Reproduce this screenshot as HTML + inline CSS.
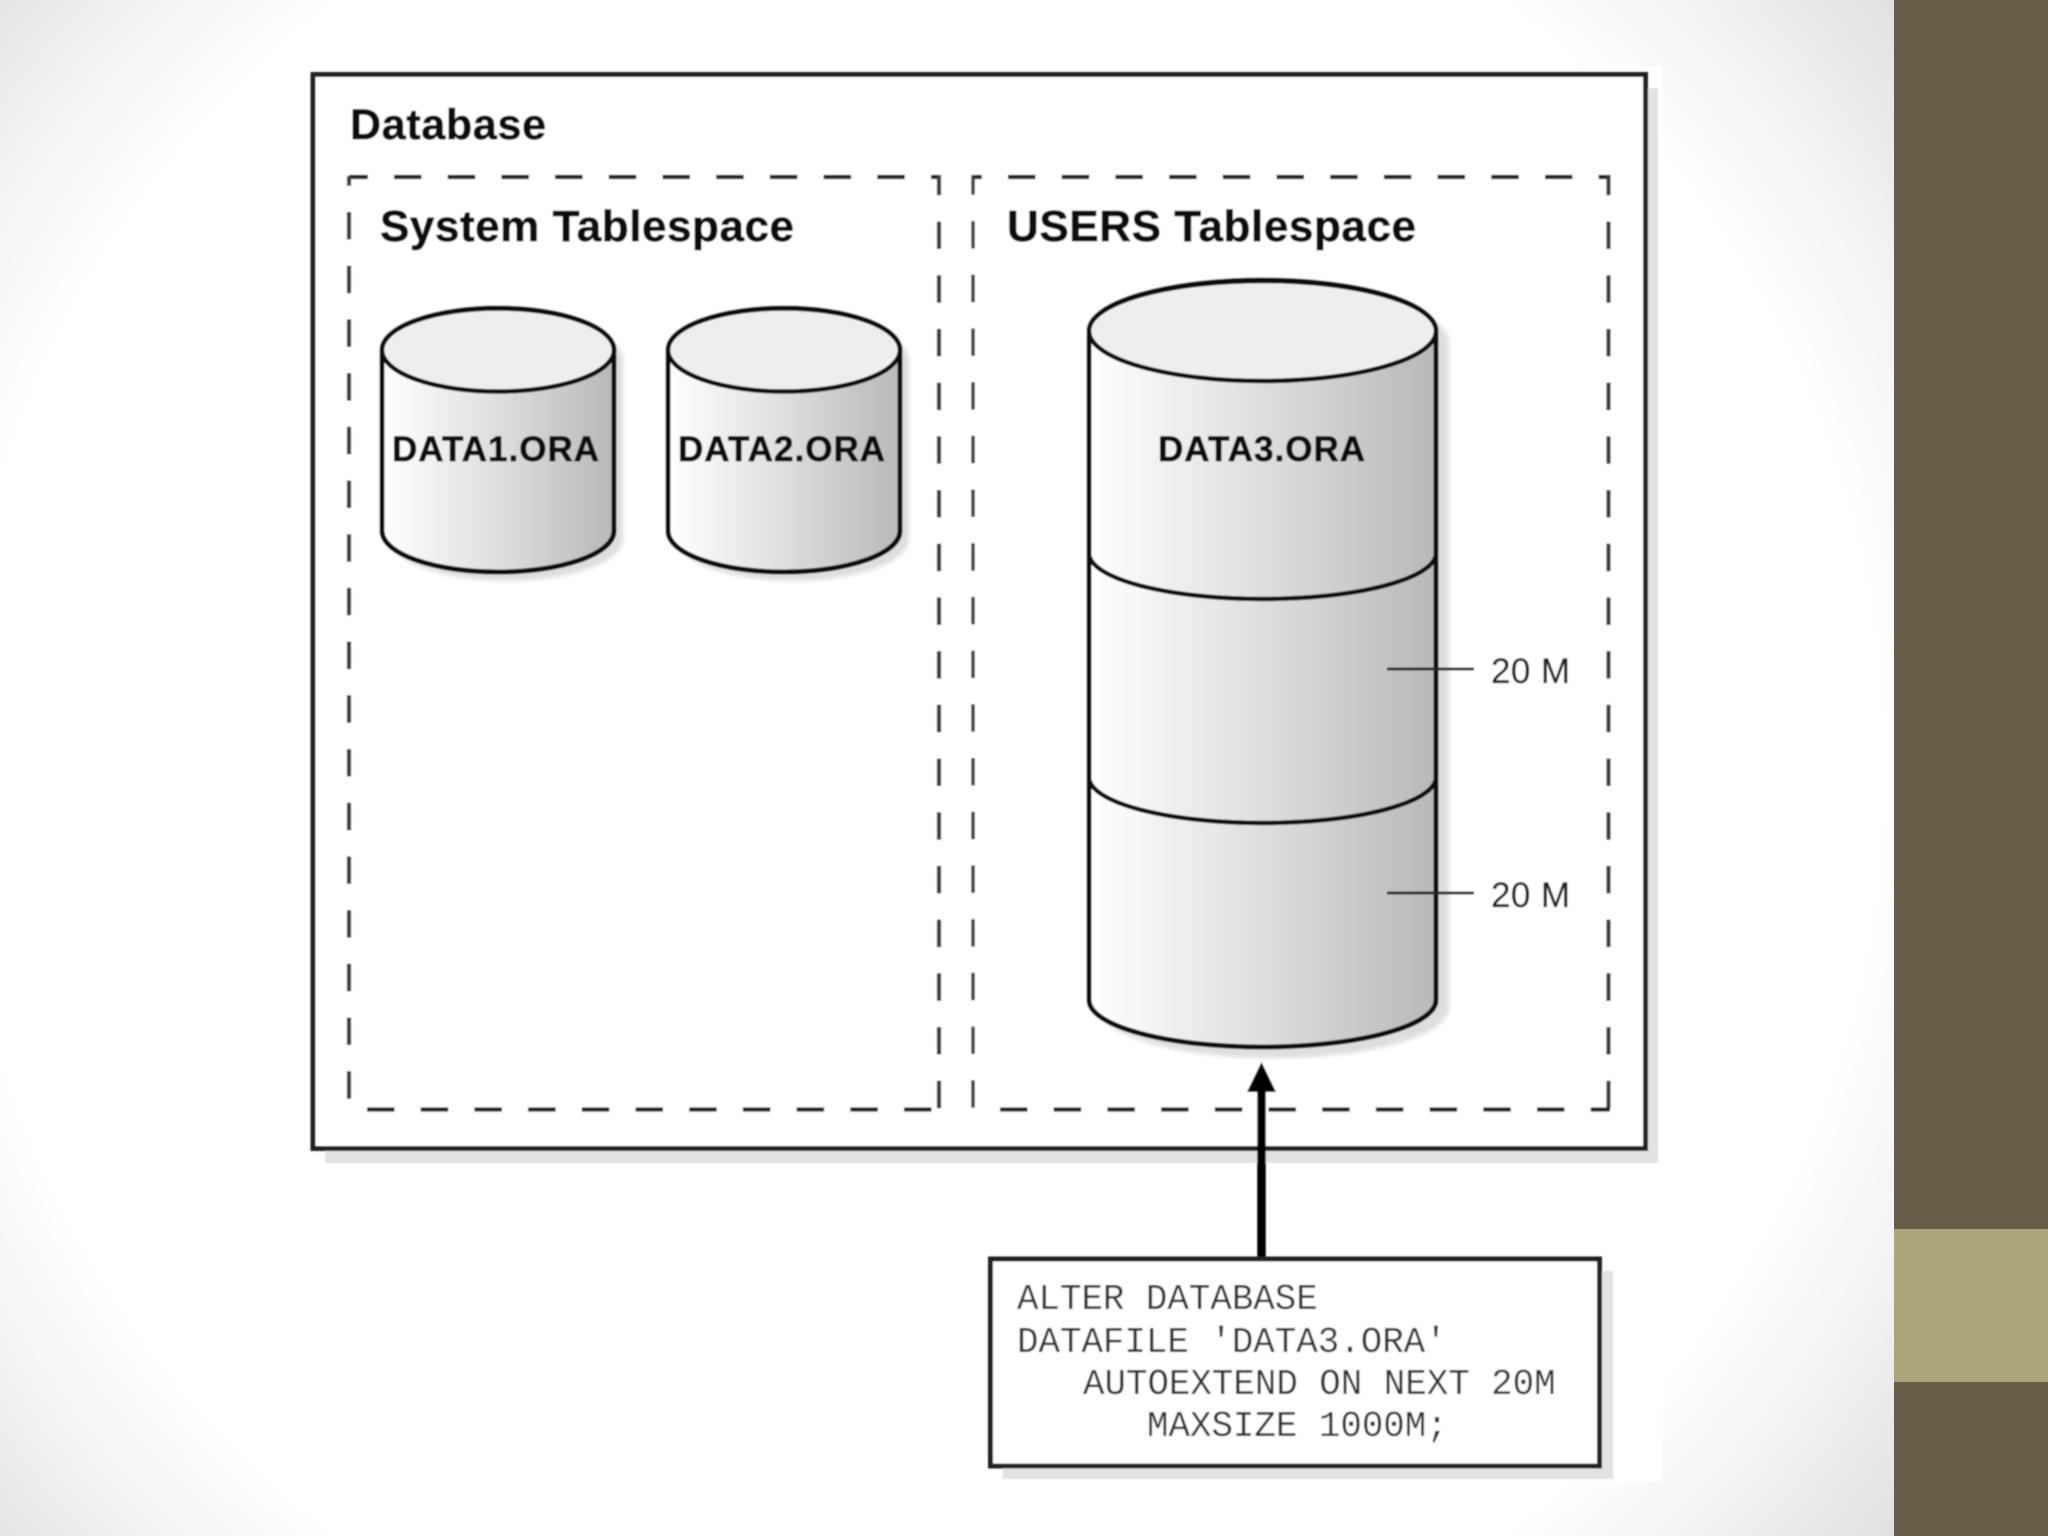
<!DOCTYPE html>
<html><head><meta charset="utf-8"><style>
html,body{margin:0;padding:0;width:2048px;height:1536px;overflow:hidden}
body{background:radial-gradient(circle 1300px at 920px 768px,#fff 0%,#fff 74%,#f5f5f5 82%,#dadada 100%)}
svg{position:absolute;left:0;top:0}
.b{font-family:"Liberation Sans",sans-serif;font-weight:bold;fill:#111;stroke:#111;stroke-width:.7px}
.m{font-family:"Liberation Mono",monospace;font-size:35.8px;fill:#333}
.r{font-family:"Liberation Sans",sans-serif;font-size:35px;fill:#222;stroke:#222;stroke-width:.3px}
</style></head><body>
<svg width="2048" height="1536" viewBox="0 0 2048 1536" xmlns="http://www.w3.org/2000/svg">
<defs>
<linearGradient id="g" x1="0" x2="1" y1="0" y2="0"><stop offset="0" stop-color="#fff"/><stop offset=".5" stop-color="#dedede"/><stop offset="1" stop-color="#b8b8b8"/></linearGradient>
<filter id="s" x="-10%" y="-10%" width="120%" height="120%"><feGaussianBlur stdDeviation="2"/></filter>
<filter id="t" x="-2%" y="-2%" width="104%" height="104%"><feGaussianBlur stdDeviation="0.7"/></filter>
</defs>
<rect x="1894" y="0" width="154" height="1536" fill="#675e47"/>
<rect x="1894" y="1229" width="154" height="153" fill="#aaa57b"/>
<rect x="300" y="66" width="1362" height="1416" fill="#fff"/>
<g filter="url(#t)">
<rect x="325" y="88" width="1333" height="1075" fill="#e2e2e2"/>
<rect x="313" y="74.500" width="1332.500" height="1074" fill="#fff" stroke="#222" stroke-width="5"/>
<text class="b" x="350" y="139" font-size="43" textLength="196">Database</text>

<g fill="none" stroke="#3a3a3a" stroke-width="4.200" stroke-dasharray="27.500 26.200">
<path d="M349 177H941" stroke-dashoffset="8.700" stroke="#222"/>
<path d="M939 175V1110" stroke-dashoffset="7.200"/>
<path d="M349 1109.500H932" stroke-dashoffset="35.700" stroke="#222"/>
<path d="M349 176V1104" stroke-dashoffset="17.700"/>
<path d="M973 177H1610" stroke-dashoffset="18.700" stroke="#222"/>
<path d="M1608.500 175V1110" stroke-dashoffset="7.200"/>
<path d="M975 1109.500H1610" stroke-dashoffset="28.700" stroke="#222"/>
<path d="M973 175V1110" stroke-dashoffset="7.700" stroke-width="3.500"/>
</g>
<text class="b" x="380" y="241" font-size="44" textLength="414">System Tablespace</text>
<text class="b" x="1007" y="241" font-size="44" textLength="409">USERS Tablespace</text>

<!-- DATA1 -->
<path d="M391 360A116 42 0 0 1 623 360V539A116 42 0 0 1 391 539Z" fill="#dedede" filter="url(#s)"/>
<path d="M382 350A116 42 0 0 1 614 350V531A116 41 0 0 1 382 531Z" fill="url(#g)" stroke="#111" stroke-width="5"/>
<ellipse cx="498" cy="350" rx="116" ry="41.500" fill="#eee" stroke="#111" stroke-width="4.500"/>
<text class="b" x="392" y="461" font-size="35" textLength="207">DATA1.ORA</text>
<!-- DATA2 -->
<path d="M677 360A116 42 0 0 1 909 360V539A116 42 0 0 1 677 539Z" fill="#dedede" filter="url(#s)"/>
<path d="M668 350A116 42 0 0 1 900 350V531A116 41 0 0 1 668 531Z" fill="url(#g)" stroke="#111" stroke-width="5"/>
<ellipse cx="784" cy="350" rx="116" ry="41.500" fill="#eee" stroke="#111" stroke-width="4.500"/>
<text class="b" x="678" y="461" font-size="35" textLength="207">DATA2.ORA</text>
<!-- DATA3 -->
<path d="M1099 342A174.500 51 0 0 1 1449 342V1008A174.500 50 0 0 1 1099 1008Z" fill="#dedede" filter="url(#s)"/>
<path d="M1089 331A173.500 51 0 0 1 1436 331V1000A173.500 47 0 0 1 1089 1000Z" fill="url(#g)" stroke="#111" stroke-width="5"/>
<ellipse cx="1262.500" cy="331" rx="173.500" ry="50" fill="#eee" stroke="#111" stroke-width="4.500"/>
<path d="M1089 553A173.500 46 0 0 0 1436 553M1089 777A173.500 46 0 0 0 1436 777" fill="none" stroke="#111" stroke-width="4.500"/>
<text class="b" x="1158" y="461" font-size="35" textLength="207">DATA3.ORA</text>
<path d="M1387 669H1474M1387 893H1474" stroke="#222" stroke-width="3"/>
<text class="r" x="1491" y="683" textLength="79">20 M</text>
<text class="r" x="1491" y="907" textLength="79">20 M</text>

<!-- arrow -->
<path d="M1261.500 1258V1088" stroke="#000" stroke-width="8.500"/>
<path d="M1261.500 1062L1276 1092H1247Z" fill="#000"/>

<!-- statement box -->
<rect x="1003" y="1271" width="610" height="208" fill="#e2e2e2"/>
<rect x="990.500" y="1259" width="609" height="207" fill="#fff" stroke="#222" stroke-width="5"/>
<text class="m" x="1017" y="1309">ALTER DATABASE</text>
<text class="m" x="1017" y="1352">DATAFILE 'DATA3.ORA'</text>
<text class="m" x="1083" y="1394">AUTOEXTEND ON NEXT 20M</text>
<text class="m" x="1147" y="1436">MAXSIZE 1000M;</text>
</g>
</svg>
</body></html>
